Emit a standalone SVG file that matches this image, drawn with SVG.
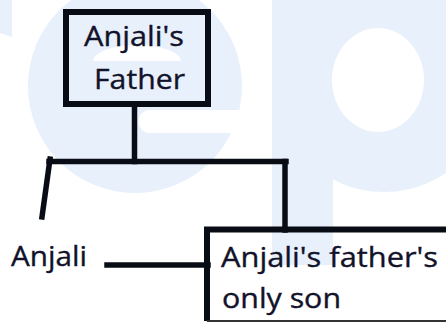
<svg xmlns="http://www.w3.org/2000/svg" width="446" height="323" viewBox="0 0 446 323">
<style>
.wm{fill:#e8f0fc}
.hole{fill:#ffffff}
.box{fill:none;stroke:#080c14;stroke-width:6}
.ln{fill:none;stroke:#080c14;stroke-width:5.5;stroke-linecap:square}
.t{font-family:"Open Sans","Noto Sans","Liberation Sans",sans-serif;font-size:27px;fill:#12122a;stroke:#12122a;stroke-width:0.35}
</style>
<rect width="446" height="323" fill="#ffffff"/>
<g id="watermark">
<polygon class="wm" points="0,0 12,0 12,37 0,33"/>
<circle class="wm" cx="135" cy="86" r="107"/>
<path class="hole" d="M93,61 A44,16 0 0 1 181,61 Z"/>
<path class="hole" d="M150,110 H250 V133 H150 A11.5,11.5 0 0 1 150,110 Z"/>
<rect class="wm" x="272" y="0" width="61" height="265"/>
<circle class="wm" cx="384" cy="82" r="110"/>
<ellipse class="hole" cx="378" cy="80" rx="46" ry="52"/>
</g>
<g id="connectors">
<line class="ln" x1="134.5" y1="107" x2="134.5" y2="161.5"/>
<line class="ln" x1="49" y1="161.5" x2="286" y2="161.5"/>
<line class="ln" x1="50" y1="159" x2="42" y2="217"/>
<line class="ln" x1="285" y1="161.5" x2="285" y2="230"/>
<line class="ln" x1="107" y1="265" x2="208" y2="265"/>
</g>
<g id="father">
<rect class="box" x="66" y="12" width="142" height="92"/>
<text class="t" x="84" y="46" textLength="100" lengthAdjust="spacingAndGlyphs">Anjali's</text>
<text class="t" x="94" y="89" textLength="91" lengthAdjust="spacingAndGlyphs">Father</text>
</g>
<g id="anjali">
<text class="t" x="11" y="266" textLength="76" lengthAdjust="spacingAndGlyphs">Anjali</text>
</g>
<g id="son">
<path class="box" d="M452,229.5 H207 V321"/>
<line x1="207" y1="321" x2="446" y2="321" stroke="#333" stroke-width="2"/>
<text class="t" x="221" y="267" textLength="217" lengthAdjust="spacingAndGlyphs">Anjali's father's</text>
<text class="t" x="222" y="308" textLength="119" lengthAdjust="spacingAndGlyphs">only son</text>
</g>
</svg>
